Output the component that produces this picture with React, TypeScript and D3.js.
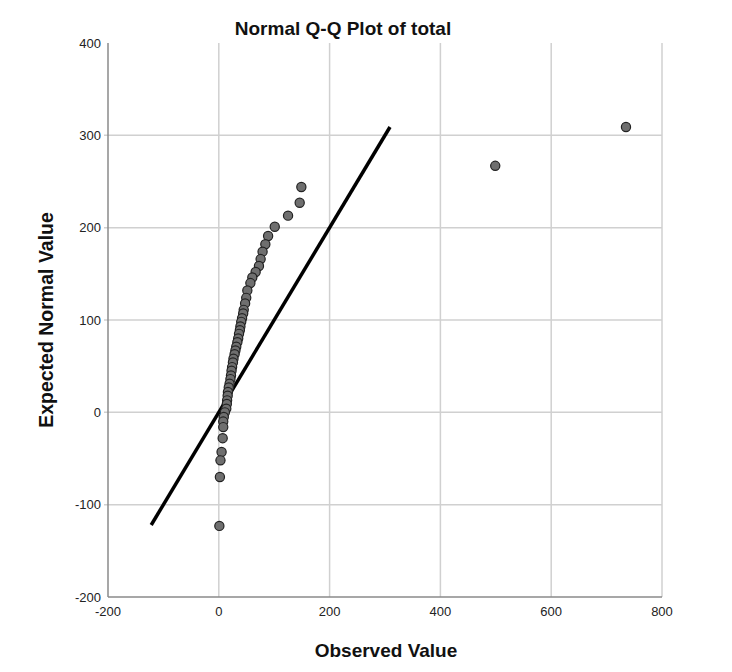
import { useEffect, useRef } from "react";
import * as d3 from "d3";

const observed = [
  735, 499, 149, 146, 125, 101, 89, 84, 79, 75.5, 72.5, 66.5, 60.5, 57, 51.5, 49.5, 47.5, 45,
  44, 42, 40.5, 39, 38, 36.5, 35, 33.5, 31.5, 30, 28.5, 26.5, 25.5, 24, 23, 22, 21, 19.5, 18,
  16.5, 16, 15, 14.5, 13.5, 11, 9, 8, 8, 7, 5, 3, 2, 1,
];
const expected = [
  309, 267, 244, 227, 213, 201, 191, 182, 174, 166, 158.5, 152, 146, 140, 132, 124, 118, 111,
  107, 102, 98, 93, 89, 85, 80, 76, 71, 67, 63, 58, 54, 49, 45, 40, 36, 31, 27, 22, 18, 13, 9,
  4, 0, -5, -10, -16, -28, -43, -52, -70, -123,
];
const lineEnds = [-122, 309];
const xTicks = [-200, 0, 200, 400, 600, 800];
const yTicks = [-200, -100, 0, 100, 200, 300, 400];

const W = 732;
const H = 672;
const font = "'Liberation Sans', Arial, sans-serif";

export default function App() {
  const svgRef = useRef<SVGSVGElement>(null);

  useEffect(() => {
    document.body.style.margin = "0";
    if (!svgRef.current) return;
    const svg = d3.select(svgRef.current);
    svg.selectAll("*").remove();

    const x = d3.scaleLinear().domain([-200, 800]).range([108, 662]);
    const y = d3.scaleLinear().domain([-200, 400]).range([597, 43]);

    // grid
    const grid = svg.append("g");
    grid
      .selectAll("line.v")
      .data(xTicks.slice(1))
      .enter()
      .append("line")
      .attr("x1", (d) => x(d))
      .attr("x2", (d) => x(d))
      .attr("y1", y(400))
      .attr("y2", y(-200))
      .attr("stroke", "#d0d0d0")
      .attr("stroke-width", 1.5);
    grid
      .selectAll("line.h")
      .data(yTicks.slice(1, -1))
      .enter()
      .append("line")
      .attr("x1", x(-200) - 4)
      .attr("x2", x(800))
      .attr("y1", (d) => y(d))
      .attr("y2", (d) => y(d))
      .attr("stroke", "#d0d0d0")
      .attr("stroke-width", 1.5);

    // axes
    svg
      .append("line")
      .attr("x1", x(-200))
      .attr("x2", x(-200))
      .attr("y1", y(400))
      .attr("y2", y(-200))
      .attr("stroke", "#8a8a8a")
      .attr("stroke-width", 1.5);
    svg
      .append("line")
      .attr("x1", x(-200))
      .attr("x2", x(800))
      .attr("y1", y(-200))
      .attr("y2", y(-200))
      .attr("stroke", "#8a8a8a")
      .attr("stroke-width", 1.5);

    svg
      .append("g")
      .selectAll("text")
      .data(xTicks)
      .enter()
      .append("text")
      .attr("x", (d) => x(d))
      .attr("y", 616)
      .attr("text-anchor", "middle")
      .attr("font-family", font)
      .attr("font-size", 13)
      .attr("fill", "#222")
      .text((d) => d);

    svg
      .append("g")
      .selectAll("text")
      .data(yTicks)
      .enter()
      .append("text")
      .attr("x", 101)
      .attr("y", (d) => y(d) + 4.5)
      .attr("text-anchor", "end")
      .attr("font-family", font)
      .attr("font-size", 13)
      .attr("fill", "#222")
      .text((d) => d);

    // reference line
    svg
      .append("line")
      .attr("x1", x(lineEnds[0]))
      .attr("y1", y(lineEnds[0]))
      .attr("x2", x(lineEnds[1]))
      .attr("y2", y(lineEnds[1]))
      .attr("stroke", "#000")
      .attr("stroke-width", 3.5);

    // points
    svg
      .append("g")
      .selectAll("circle")
      .data(observed.map((o, i) => ({ o, e: expected[i] })))
      .enter()
      .append("circle")
      .attr("cx", (d) => x(d.o))
      .attr("cy", (d) => y(d.e))
      .attr("r", 4.6)
      .attr("fill", "#6f6f6f")
      .attr("stroke", "#222")
      .attr("stroke-width", 1.2);

    // titles
    svg
      .append("text")
      .attr("x", 343)
      .attr("y", 35)
      .attr("text-anchor", "middle")
      .attr("font-family", font)
      .attr("font-weight", "bold")
      .attr("font-size", 19)
      .attr("fill", "#111")
      .text("Normal Q-Q Plot of total");

    svg
      .append("text")
      .attr("x", 386)
      .attr("y", 657)
      .attr("text-anchor", "middle")
      .attr("font-family", font)
      .attr("font-weight", "bold")
      .attr("font-size", 19)
      .attr("fill", "#111")
      .text("Observed Value");

    svg
      .append("text")
      .attr("transform", `translate(53,320) rotate(-90)`)
      .attr("text-anchor", "middle")
      .attr("font-family", font)
      .attr("font-weight", "bold")
      .attr("font-size", 19.5)
      .attr("fill", "#111")
      .text("Expected Normal Value");
  }, []);

  return <svg ref={svgRef} width={W} height={H} style={{ display: "block", background: "#fff" }} />;
}
